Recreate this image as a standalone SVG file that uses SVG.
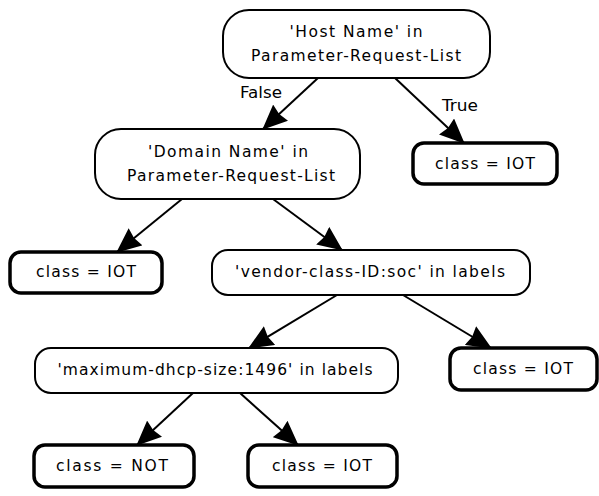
<svg xmlns="http://www.w3.org/2000/svg" width="599" height="496" viewBox="0 0 599 496">
  <style>
    .bg { fill: #ffffff; }
    .decision { fill: #ffffff; stroke: #000000; stroke-width: 2; }
    .leaf { fill: #ffffff; stroke: #000000; stroke-width: 3.5; }
    .label { font-family: "DejaVu Sans", "Verdana", sans-serif; font-size: 15.5px; fill: #000000; text-anchor: middle; }
    .edge { stroke: #000000; stroke-width: 2; fill: none; marker-end: url(#arrow); }
  </style>
  <defs>
    <marker id="arrow" markerUnits="userSpaceOnUse" markerWidth="25" markerHeight="22" viewBox="0 0 25 22" refX="24" refY="11" orient="auto">
      <path d="M0,0 L25,11 L0,22 L2,11 Z" fill="#000000"/>
    </marker>
  </defs>
  <rect class="bg" x="0" y="0" width="599" height="496"/>

  <g id="connectors">
    <line class="edge" x1="318" y1="78" x2="263" y2="129"/>
    <line class="edge" x1="395" y1="78" x2="464" y2="143"/>
    <line class="edge" x1="182" y1="199" x2="117" y2="252"/>
    <line class="edge" x1="273" y1="199" x2="342" y2="250"/>
    <line class="edge" x1="337" y1="295" x2="249" y2="348"/>
    <line class="edge" x1="403" y1="295" x2="491" y2="348"/>
    <line class="edge" x1="193" y1="393" x2="137" y2="445"/>
    <line class="edge" x1="240" y1="393" x2="298" y2="445"/>
    <text class="label" x="261" y="98" textLength="42" lengthAdjust="spacingAndGlyphs">False</text>
    <text class="label" x="460" y="111" textLength="36" lengthAdjust="spacingAndGlyphs">True</text>
  </g>

  <g id="node-host-name">
    <rect class="decision" x="223" y="10" width="267" height="68" rx="26" ry="26"/>
    <text class="label" x="356" y="37" textLength="133" lengthAdjust="spacing">'Host Name' in</text>
    <text class="label" x="356" y="61" textLength="210" lengthAdjust="spacing">Parameter-Request-List</text>
  </g>

  <g id="node-true-iot">
    <rect class="leaf" x="413" y="143" width="144" height="41" rx="11" ry="11"/>
    <text class="label" x="485" y="169" textLength="100" lengthAdjust="spacing">class = IOT</text>
  </g>

  <g id="node-domain-name">
    <rect class="decision" x="95" y="129" width="265" height="70" rx="26" ry="26"/>
    <text class="label" x="228" y="157" textLength="160" lengthAdjust="spacing">'Domain Name' in</text>
    <text class="label" x="231" y="181" textLength="208" lengthAdjust="spacing">Parameter-Request-List</text>
  </g>

  <g id="node-left-iot">
    <rect class="leaf" x="10" y="252" width="152" height="41" rx="11" ry="11"/>
    <text class="label" x="86" y="277" textLength="100" lengthAdjust="spacing">class = IOT</text>
  </g>

  <g id="node-vendor-class">
    <rect class="decision" x="212" y="250" width="318" height="45" rx="16" ry="16"/>
    <text class="label" x="370" y="277" textLength="270" lengthAdjust="spacing">'vendor-class-ID:soc' in labels</text>
  </g>

  <g id="node-max-dhcp">
    <rect class="decision" x="35" y="348" width="363" height="45" rx="16" ry="16"/>
    <text class="label" x="215" y="375" textLength="315" lengthAdjust="spacing">'maximum-dhcp-size:1496' in labels</text>
  </g>

  <g id="node-right-iot">
    <rect class="leaf" x="450" y="348" width="147" height="42" rx="11" ry="11"/>
    <text class="label" x="523" y="374" textLength="100" lengthAdjust="spacing">class = IOT</text>
  </g>

  <g id="node-not">
    <rect class="leaf" x="34" y="445" width="160" height="42" rx="11" ry="11"/>
    <text class="label" x="112" y="471" textLength="112" lengthAdjust="spacing">class = NOT</text>
  </g>

  <g id="node-bottom-iot">
    <rect class="leaf" x="248" y="445" width="149" height="42" rx="11" ry="11"/>
    <text class="label" x="322" y="471" textLength="100" lengthAdjust="spacing">class = IOT</text>
  </g>
</svg>
